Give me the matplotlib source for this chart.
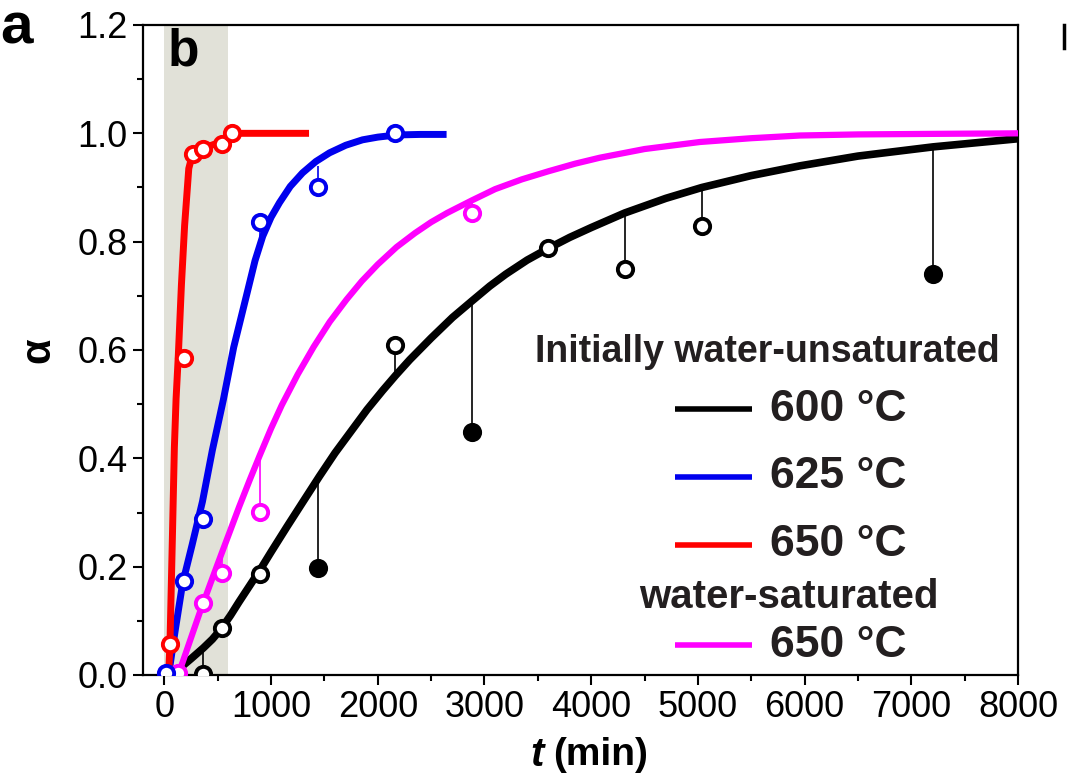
import matplotlib
matplotlib.use('Agg')
import matplotlib.pyplot as plt
from matplotlib.ticker import MultipleLocator, FormatStrFormatter
from matplotlib.lines import Line2D

plt.rcParams['font.family'] = ['Liberation Sans', 'DejaVu Sans']

# fitted curves
t_600 = [130, 250, 366, 450, 532, 620, 700, 800, 900, 1000, 1150, 1300, 1454, 1600,
         1750, 1900, 2045, 2167, 2300, 2500, 2700, 2880, 3050, 3200, 3400, 3602,
         3800, 4000, 4315, 4700, 5037, 5500, 5957, 6500, 7204, 8000]
a_600 = [0.01, 0.03, 0.05, 0.066, 0.085, 0.11, 0.135, 0.165, 0.195, 0.227, 0.274,
         0.32, 0.367, 0.41, 0.45, 0.49, 0.525, 0.553, 0.582, 0.622, 0.66, 0.69,
         0.718, 0.74, 0.766, 0.788, 0.808, 0.826, 0.853, 0.88, 0.9, 0.922, 0.94,
         0.958, 0.975, 0.99]
t_625 = [40, 100, 172, 260, 357, 450, 553, 650, 769, 850, 922, 1000, 1079, 1180,
         1295, 1420, 1548, 1700, 1857, 2000, 2176, 2400, 2645]
a_625 = [0.0, 0.08, 0.17, 0.24, 0.32, 0.415, 0.508, 0.605, 0.70, 0.765, 0.81, 0.845,
         0.872, 0.902, 0.927, 0.948, 0.964, 0.978, 0.988, 0.993, 0.997, 0.998, 0.998]
t_650 = [40, 53, 75, 94, 110, 131, 160, 190, 229, 262, 320, 400, 540, 640, 1356]
a_650 = [0.0, 0.06, 0.25, 0.42, 0.51, 0.59, 0.72, 0.83, 0.935, 0.96, 0.97, 0.975,
         0.985, 1.0, 1.0]
t_sat = [130, 200, 270, 328, 430, 532, 620, 700, 800, 891, 1000, 1100, 1250, 1400,
         1550, 1707, 1850, 2000, 2176, 2350, 2500, 2650, 2880, 3100, 3350, 3600,
         3850, 4081, 4500, 5019, 5500, 5957, 6500, 7200, 8000]
a_sat = [0.0, 0.04, 0.08, 0.113, 0.168, 0.222, 0.268, 0.31, 0.36, 0.404, 0.455,
         0.498, 0.555, 0.606, 0.652, 0.693, 0.727, 0.758, 0.79, 0.816, 0.836, 0.853,
         0.876, 0.897, 0.915, 0.93, 0.944, 0.955, 0.971, 0.984, 0.991, 0.996, 0.998,
         0.999, 1.0]

# measured points, with the fitted value at the same time (stem top)
pt_600 = [360, 540, 900, 1440, 2160, 2880, 3600, 4320, 5040, 7200]
pa_600 = [0.002, 0.087, 0.186, 0.198, 0.609, 0.449, 0.788, 0.749, 0.829, 0.74]
fit_600 = [0.05, 0.087, 0.195, 0.367, 0.55, 0.69, 0.788, 0.855, 0.9, 0.975]
filled_600 = [False, False, False, True, False, True, False, False, False, True]

pt_625 = [15, 180, 360, 900, 1440, 2160]
pa_625 = [0.004, 0.173, 0.288, 0.837, 0.90, 1.0]
fit_625 = [0.0, 0.175, 0.32, 0.80, 0.94, 0.997]

pt_650 = [53, 180, 270, 360, 540, 630]
pa_650 = [0.057, 0.585, 0.961, 0.971, 0.98, 1.0]
fit_650 = [0.057, 0.585, 0.961, 0.971, 0.98, 1.0]

pt_sat = [125, 360, 540, 900, 2880]
pa_sat = [0.004, 0.133, 0.189, 0.301, 0.853]
fit_sat = [0.004, 0.13, 0.228, 0.408, 0.876]

BLACK, BLUE, RED, MAGENTA = '#000000', '#0000ee', '#ff0000', '#ff00ff'
TXT = '#231f20'

fig = plt.figure(figsize=(10.67, 7.8), dpi=100)
ax = fig.add_axes([143/1067, 105/780, 875/1067, 650/780])

ax.axvspan(0, 600, color='#e1e1d8', zorder=0, lw=0)

series = [
    (t_600, a_600, pt_600, pa_600, fit_600, BLACK, 5.5),
    (t_sat, a_sat, pt_sat, pa_sat, fit_sat, MAGENTA, 4.5),
    (t_625, a_625, pt_625, pa_625, fit_625, BLUE, 5),
    (t_650, a_650, pt_650, pa_650, fit_650, RED, 5),
]
for tc, ac, tp, ap, fp, col, lw in series:
    ax.vlines(tp, ap, fp, color=col, lw=1.2, zorder=2)
    ax.plot(tc, ac, color=col, lw=lw, solid_capstyle='butt',
            solid_joinstyle='round', zorder=3)

for tc, ac, tp, ap, fp, col, lw in series:
    if col == BLACK:
        for x, y, f in zip(tp, ap, filled_600):
            ax.plot(x, y, 'o', ms=11, mew=2.8, mec=col,
                    mfc=col if f else 'white', zorder=4)
    else:
        ax.plot(tp, ap, 'o', ms=11, mew=2.8, mec=col, mfc='white',
                zorder=4, ls='none')

ax.set_xlim(-200, 8000)
ax.set_ylim(0, 1.2)
ax.xaxis.set_major_locator(MultipleLocator(1000))
ax.xaxis.set_minor_locator(MultipleLocator(500))
ax.yaxis.set_major_locator(MultipleLocator(0.2))
ax.yaxis.set_minor_locator(MultipleLocator(0.1))
ax.yaxis.set_major_formatter(FormatStrFormatter('%.1f'))
ax.tick_params(which='both', direction='out', width=1.5, labelsize=26,
               top=False, right=False)
ax.tick_params(which='major', length=7, pad=4)
ax.tick_params(which='minor', length=4)
for sp in ax.spines.values():
    sp.set_linewidth(1.6)

# axis labels
ax.set_ylabel('α', fontsize=30, fontweight='bold', labelpad=14)
fig.text(537/1067, 1 - 755/780, 't', fontsize=29, fontweight='bold',
         style='italic', ha='center', va='center')
fig.text(553/1067, 1 - 755/780, '(min)', fontsize=28, fontweight='bold',
         ha='left', va='center')

# panel letters
fig.text(0.0, 1 - 2/780, 'a', fontsize=42, fontweight='bold', va='top', ha='left')
ax.text((168 - 143)/875, 1 - 2/650, 'b', fontsize=37, fontweight='bold',
        va='top', ha='left', transform=ax.transAxes)
fig.add_artist(Line2D([1064/1067, 1064/1067], [1 - 25/780, 1 - 48/780],
                      color='black', lw=2.5))

# hand-placed legend
ax.text(0.714, 0.497, 'Initially water-unsaturated', transform=ax.transAxes,
        fontsize=27, fontweight='bold', color=TXT, ha='center', va='center')
ax.text(0.738, 0.12, 'water-saturated', transform=ax.transAxes,
        fontsize=29, fontweight='bold', color=TXT, ha='center', va='center')
legend_rows = [(0.409, BLACK, '600 °C'), (0.305, BLUE, '625 °C'),
               (0.2, RED, '650 °C'), (0.046, MAGENTA, '650 °C')]
for y, col, lab in legend_rows:
    ax.plot([0.608, 0.696], [y, y], color=col, lw=4, transform=ax.transAxes,
            solid_capstyle='butt')
    ax.text(0.717, y, lab, transform=ax.transAxes, fontsize=32,
            fontweight='bold', color=TXT, ha='left', va='center')

fig.savefig('out.png', dpi=100)
